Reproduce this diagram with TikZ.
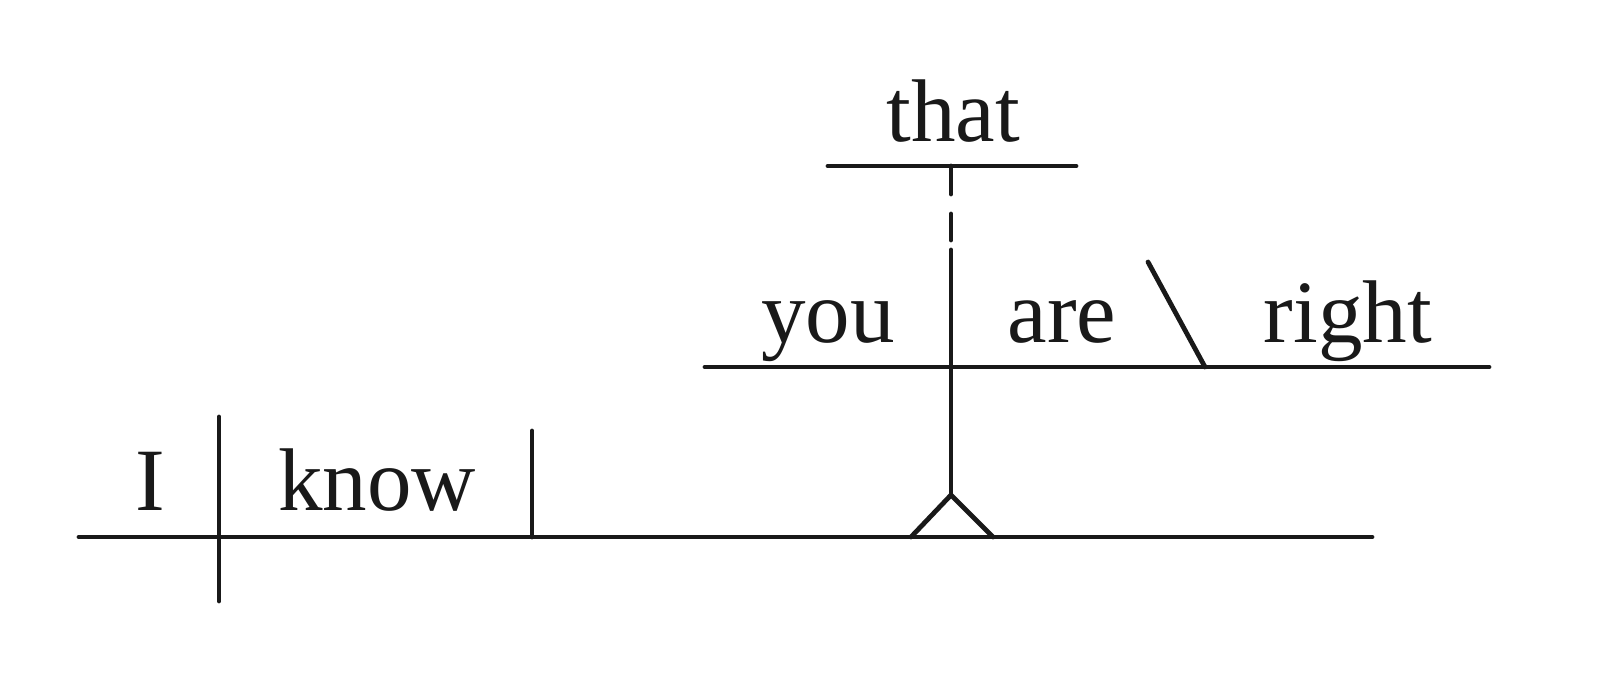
\documentclass[tikz,border=0pt]{standalone}
\usepackage{fontspec}
\setmainfont{Liberation Serif}
\begin{document}
\begin{tikzpicture}[x=1pt,y=-1pt,
  ln/.style={line width=4.8pt,line cap=round,draw=black!90},
  word/.style={anchor=base,inner sep=0pt,font=\fontsize{89}{89}\selectfont,text=black!90}]
\useasboundingbox (0,0) rectangle (1600,694);
% main line
\coordinate (mL) at (79,537);
\coordinate (mR) at (1372,537);
\coordinate (sT) at (219,417);
\coordinate (sB) at (219,601);
\coordinate (vT) at (532,431);
\coordinate (vB) at (532,537);
\coordinate (pA) at (951,495);
\coordinate (pL) at (911,537);
\coordinate (pR) at (993,537);
% clause line
\coordinate (cL) at (705,367);
\coordinate (cR) at (1489,367);
\coordinate (cS) at (951,250);
\coordinate (bT) at (1148,262);
\coordinate (bB) at (1205,367);
% that line
\coordinate (tL) at (828,166);
\coordinate (tR) at (1076,166);
\coordinate (tS) at (951,166);
\coordinate (d1) at (951,194);
\coordinate (d2) at (951,214);
\coordinate (d3) at (951,240);

\draw[ln] (mL) -- (mR);
\draw[ln] (sT) -- (sB);
\draw[ln] (vT) -- (vB);
\draw[ln,line join=miter] (pL) -- (pA) -- (pR);
\draw[ln] (cL) -- (cR);
\draw[ln] (pA) -- (cS);
\draw[ln] (bT) -- (bB);
\draw[ln] (tL) -- (tR);
\draw[ln] (tS) -- (d1);
\draw[ln] (d2) -- (d3);

\node[word] (I) at (150,510) {I};
\node[word] (know) at (377,510) {know};
\node[word] (you) at (828,342) {you};
\node[word] (are) at (1062,342) {are};
\node[word] (right) at (1348,342) {right};
\node[word] (that) at (953,141) {that};
\end{tikzpicture}
\end{document}
